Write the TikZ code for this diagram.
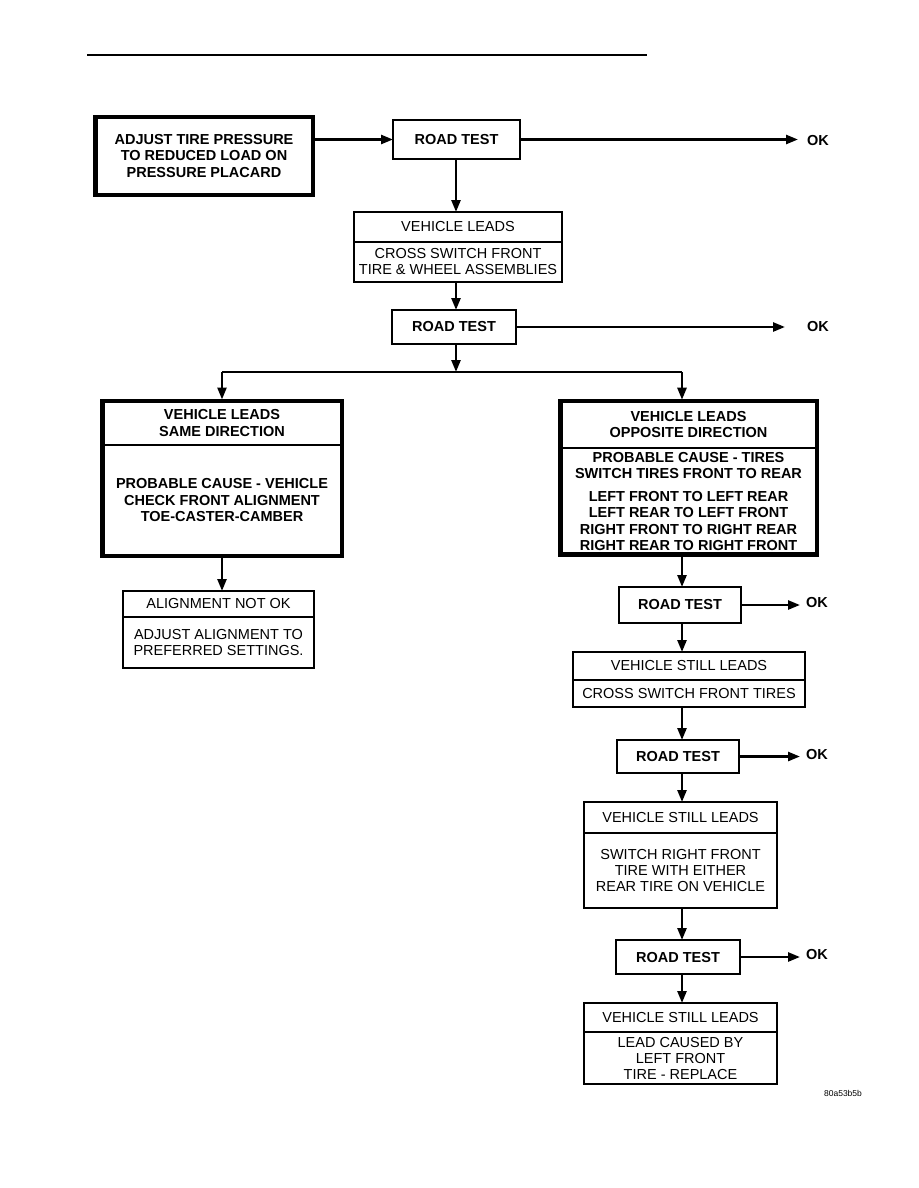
\documentclass[tikz,border=0pt]{standalone}
\usepackage{fontspec}
\setmainfont{Liberation Sans}
\usetikzlibrary{arrows.meta,positioning}

\tikzset{
  box/.style={draw, line width=1.5pt, align=center, inner sep=0pt, outer sep=0pt,
    font=\fontsize{14.5}{16}\selectfont},
  boldbox/.style={box, font=\bfseries\fontsize{14.5}{16.5}\selectfont},
  heavy/.style={line width=4.5pt},
  arr/.style={line width=2.5pt, -{Triangle[length=12pt,width=9pt]}},
  oktext/.style={font=\bfseries\fontsize{14.5}{16.5}\selectfont, anchor=west, inner sep=0pt}
}

\begin{document}
\begin{tikzpicture}[x=1pt,y=-1pt]
    \useasboundingbox (0,0) rectangle (918,1188);
    \draw[line width=2pt] (87,55) -- (647,55);
    % Start
    \node[boldbox, heavy, minimum width=217.5, minimum height=77.5] (adjust) at (204,156)
        {ADJUST TIRE PRESSURE\\TO REDUCED LOAD ON\\PRESSURE PLACARD};
    \node[boldbox, minimum width=127, minimum height=39] (rt1) at (456.5,139.5) {ROAD TEST};
    \node[oktext] (ok1) at (807,141) {OK};
    \node[box, minimum width=208, minimum height=30] (vl1H) at (458,227) {VEHICLE LEADS};
    \node[box, minimum width=208, minimum height=40, below=0pt of vl1H] (vl1B)
        {CROSS SWITCH FRONT\\TIRE \& WHEEL ASSEMBLIES};
    \node[boldbox, minimum width=124, minimum height=34] (rt2) at (454,327) {ROAD TEST};
    \node[oktext] (ok2) at (807,327) {OK};
    \coordinate (split) at (456,372);
    \coordinate (colR) at (682,0);
    % Same direction
    \node[boldbox, minimum width=239.5, minimum height=44] (sameH) at (222,423)
        {VEHICLE LEADS\\SAME DIRECTION};
    \node[boldbox, minimum width=239.5, minimum height=111, below=0pt of sameH] (sameB)
        {PROBABLE CAUSE - VEHICLE\\CHECK FRONT ALIGNMENT\\TOE-CASTER-CAMBER};
    \draw[heavy] (sameH.north west) rectangle (sameB.south east);
    \node[box, minimum width=191, minimum height=26] (alignH) at (218.5,604) {ALIGNMENT NOT OK};
    \node[box, minimum width=191, minimum height=51, below=0pt of alignH] (alignB)
        {ADJUST ALIGNMENT TO\\PREFERRED SETTINGS.};
    % Opposite direction
    \node[boldbox, minimum width=256.5, minimum height=46.75] (oppH) at (688.5,424.6)
        {VEHICLE LEADS\\OPPOSITE DIRECTION};
    \node[boldbox, minimum width=256.5, minimum height=106.75, below=0pt of oppH] (oppB)
        {PROBABLE CAUSE - TIRES\\SWITCH TIRES FRONT TO REAR\\[6pt]
         LEFT FRONT TO LEFT REAR\\LEFT REAR TO LEFT FRONT\\
         RIGHT FRONT TO RIGHT REAR\\RIGHT REAR TO RIGHT FRONT};
    \draw[heavy] (oppH.north west) rectangle (oppB.south east);
    \node[boldbox, minimum width=122, minimum height=36] (rt3) at (680,605) {ROAD TEST};
    \node[oktext] (ok3) at (806,603) {OK};
    \node[box, minimum width=232, minimum height=28] (vsl1H) at (689,666) {VEHICLE STILL LEADS};
    \node[box, minimum width=232, minimum height=27, below=0pt of vsl1H] (vsl1B)
        {CROSS SWITCH FRONT TIRES};
    \node[boldbox, minimum width=122, minimum height=33] (rt4) at (678,756.5) {ROAD TEST};
    \node[oktext] (ok4) at (806,754) {OK};
    \node[box, minimum width=193, minimum height=31] (vsl2H) at (680.5,817.5) {VEHICLE STILL LEADS};
    \node[box, minimum width=193, minimum height=75, below=0pt of vsl2H] (vsl2B)
        {SWITCH RIGHT FRONT\\TIRE WITH EITHER\\REAR TIRE ON VEHICLE};
    \node[boldbox, minimum width=124, minimum height=34] (rt5) at (678,957) {ROAD TEST};
    \node[oktext] (ok5) at (806,954) {OK};
    \node[box, minimum width=193, minimum height=29] (vsl3H) at (680.5,1017.5) {VEHICLE STILL LEADS};
    \node[box, minimum width=193, minimum height=52, below=0pt of vsl3H] (vsl3B)
        {LEAD CAUSED BY\\LEFT FRONT\\TIRE - REPLACE};
    \node[font=\fontsize{8.5}{10}\selectfont] (code) at (843,1093) {80a53b5b};
    % Connectors
    \draw[arr] (rt1.west -| adjust.east) -- (rt1.west);
    \draw[arr, shorten >=9pt] (rt1.east) -- (rt1.east -| ok1.west);
    \draw[arr] (rt1.south -| split) -- (vl1H.north -| split);
    \draw[arr] (vl1B.south -| split) -- (rt2.north -| split);
    \draw[arr, shorten >=22pt] (rt2.east) -- (rt2.east -| ok2.west);
    \draw[arr] (rt2.south -| split) -- (split);
    \draw[line width=2.5pt] (split) -- (split -| sameH.north);
    \draw[line width=2.5pt] (split) -- (split -| colR);
    \draw[arr, shorten >=1.5pt] (split -| sameH.north) -- (sameH.north);
    \draw[arr, shorten >=1.5pt] (split -| colR) -- (oppH.north -| colR);
    \draw[arr] (sameB.south) -- (alignH.north -| sameB.south);
    \draw[arr] (oppB.south -| colR) -- (rt3.north -| colR);
    \draw[arr, shorten >=6pt] (rt3.east) -- (rt3.east -| ok3.west);
    \draw[arr] (rt3.south -| colR) -- (vsl1H.north -| colR);
    \draw[arr] (vsl1B.south -| colR) -- (rt4.north -| colR);
    \draw[arr, shorten >=6pt] (rt4.east) -- (rt4.east -| ok4.west);
    \draw[arr] (rt4.south -| colR) -- (vsl2H.north -| colR);
    \draw[arr] (vsl2B.south -| colR) -- (rt5.north -| colR);
    \draw[arr, shorten >=6pt] (rt5.east) -- (rt5.east -| ok5.west);
    \draw[arr] (rt5.south -| colR) -- (vsl3H.north -| colR);
\end{tikzpicture}
\end{document}
